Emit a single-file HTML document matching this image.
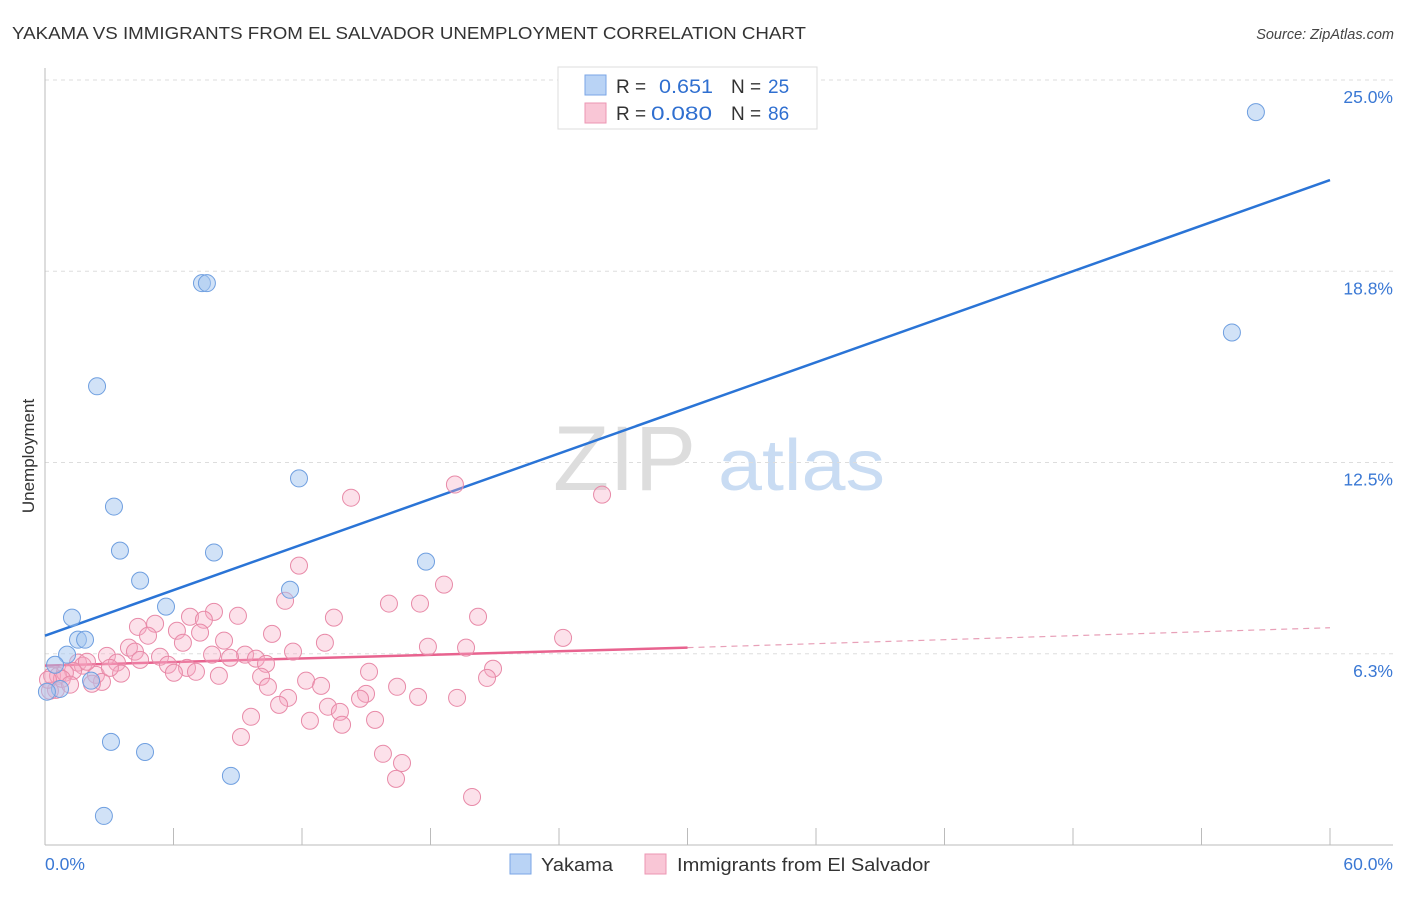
<!DOCTYPE html>
<html><head><meta charset="utf-8"><style>
body{margin:0;background:#fff;font-family:"Liberation Sans",sans-serif;}
svg text{font-family:"Liberation Sans",sans-serif;}
</style></head><body>
<svg id="chart" width="1406" height="892" xmlns="http://www.w3.org/2000/svg">
<text x="12" y="39" font-size="17.5" fill="#333" textLength="794" lengthAdjust="spacingAndGlyphs">YAKAMA VS IMMIGRANTS FROM EL SALVADOR UNEMPLOYMENT CORRELATION CHART</text>
<text x="1394" y="39" font-size="14.5" fill="#444" font-style="italic" text-anchor="end">Source: ZipAtlas.com</text>
<g>
<text x="553" y="490" font-size="92" fill="#ddd" font-family="Liberation Serif, serif">ZIP</text>
<text x="718" y="490" font-size="72" fill="#c9dcf3" textLength="167" lengthAdjust="spacingAndGlyphs">atlas</text>
</g>
<g id="grid"></g>
<g id="axes"></g>
<g id="trends"></g>
<g id="pts"></g>
<text transform="translate(34,456) rotate(-90)" font-size="17" fill="#333" text-anchor="middle">Unemployment</text>
<g>
<rect x="558" y="67" width="259" height="62" fill="#fff" stroke="#ddd"/>
<rect x="585" y="75" width="21" height="20" fill="#b9d3f5" stroke="#7aa6e6"/>
<rect x="585" y="103" width="21" height="20" fill="#f9c6d6" stroke="#ec96b3"/>
<text x="616" y="93" font-size="19" fill="#333">R =</text>
<text x="659" y="93" font-size="19" fill="#2f6fd0" textLength="54" lengthAdjust="spacingAndGlyphs">0.651</text>
<text x="731" y="93" font-size="19" fill="#333">N =</text>
<text x="768" y="93" font-size="19" fill="#2f6fd0">25</text>
<text x="616" y="120" font-size="19" fill="#333">R =</text>
<text x="651" y="120" font-size="19" fill="#2f6fd0" textLength="61" lengthAdjust="spacingAndGlyphs">0.080</text>
<text x="731" y="120" font-size="19" fill="#333">N =</text>
<text x="768" y="120" font-size="19" fill="#2f6fd0">86</text>
</g>
<g>
<rect x="510" y="854" width="21" height="20" fill="#b9d3f5" stroke="#7aa6e6"/>
<text x="541" y="871" font-size="18" fill="#333" textLength="72" lengthAdjust="spacingAndGlyphs">Yakama</text>
<rect x="645" y="854" width="21" height="20" fill="#f9c6d6" stroke="#ec96b3"/>
<text x="677" y="871" font-size="18" fill="#333" textLength="253" lengthAdjust="spacingAndGlyphs">Immigrants from El Salvador</text>
</g>
</svg>
<script>
const yTicks=[6.25,12.5,18.75,25];
const yTickLabels=["6.3%","12.5%","18.8%","25.0%"];
const xTickCount=10;
const blueX=[56.54,55.42,7.33,7.56,2.43,3.22,11.86,3.50,7.89,4.44,17.79,11.44,5.65,1.26,1.54,1.87,1.03,0.47,0.70,0.09,2.15,3.08,4.67,8.68,2.75];
const blueY=[23.95,16.75,18.36,18.36,14.99,11.06,11.98,9.62,9.56,8.64,9.26,8.34,7.79,7.43,6.71,6.71,6.22,5.89,5.10,5.01,5.37,3.37,3.04,2.26,0.95];
const pinkX=[14.29,19.14,26.01,11.86,18.63,11.21,16.06,17.51,13.49,20.22,7.89,6.77,9.01,5.14,4.34,7.42,4.81,6.16,7.24,10.60,8.36,6.44,13.07,24.19,17.88,19.66,11.58,3.92,4.20,2.89,5.37,9.34,8.64,9.85,3.36,5.74,6.63,10.32,1.54,1.77,1.31,0.33,0.61,0.93,2.38,3.55,6.02,7.05,8.12,10.09,15.13,20.92,20.64,2.66,2.19,12.19,12.89,10.41,14.99,16.44,0.51,0.23,11.35,14.71,17.42,19.24,10.93,13.21,13.77,9.62,12.37,13.87,15.41,9.15,15.78,16.67,16.39,19.94,3.03,1.96,0.79,4.44,7.80,0.14,1.17];
const pinkY=[11.35,11.78,11.45,9.13,8.51,7.98,7.89,7.89,7.43,7.46,7.62,7.46,7.49,7.23,7.13,7.36,6.84,7.00,6.94,6.90,6.68,6.61,6.61,6.77,6.48,6.45,6.32,6.45,6.32,6.18,6.15,6.22,6.12,6.09,5.96,5.89,5.79,5.92,5.96,5.86,5.69,5.53,5.53,5.63,5.56,5.60,5.63,5.66,5.53,5.50,5.66,5.76,5.46,5.33,5.27,5.37,5.20,5.17,4.94,5.17,5.07,5.04,4.81,4.78,4.84,4.81,4.58,4.52,4.35,4.19,4.06,3.93,4.09,3.53,2.98,2.68,2.16,1.57,5.79,5.99,5.43,6.05,6.22,5.40,5.24];
const blueTrendX=[0,60];
const blueTrendY=[6.84,21.73];
const pinkTrendX=[0,30,60];
const pinkTrendY=[5.86,6.45,7.10];

const X=v=>45+v*(1285/60);
const Y=v=>845-v*(765/25);
const NS="http://www.w3.org/2000/svg";
function mk(tag,attrs,parent){const e=document.createElementNS(NS,tag);for(const k in attrs)e.setAttribute(k,attrs[k]);parent.appendChild(e);return e;}
const grid=document.getElementById('grid'),axes=document.getElementById('axes'),trends=document.getElementById('trends'),pts=document.getElementById('pts');
yTicks.forEach((t,i)=>{
 const l=mk('line',{x1:45,x2:1393,y1:Y(t),y2:Y(t),stroke:'#ddd','stroke-dasharray':'4,4'},grid);
 
 
 const tx=mk('text',{x:1393,y:Y(t)+23,'font-size':17.5,fill:'#3a78d4','text-anchor':'end'},axes);
 tx.textContent=yTickLabels[i];
 
 
});
const ya=mk('line',{x1:45,x2:45,y1:68,y2:845,stroke:'#bbb'},axes);


const xa=mk('line',{x1:45,x2:1393,y1:845,y2:845,stroke:'#bbb'},axes);


for(let i=1;i<=xTickCount;i++){
 const t=mk('line',{x1:X(i*6),x2:X(i*6),y1:828,y2:845,stroke:'#bbb'},axes);
 
 
}
const x0=mk('text',{x:45,y:870,'font-size':17.5,fill:'#3a78d4'},axes);x0.textContent='0.0%';


const x1=mk('text',{x:1393,y:870,'font-size':17.5,fill:'#3a78d4','text-anchor':'end'},axes);x1.textContent='60.0%';


const bt=mk('line',{x1:X(blueTrendX[0]),y1:Y(blueTrendY[0]),x2:X(blueTrendX[1]),y2:Y(blueTrendY[1]),stroke:'#2a74d6','stroke-width':2.5},trends);


const ps=mk('line',{x1:X(pinkTrendX[0]),y1:Y(pinkTrendY[0]),x2:X(pinkTrendX[1]),y2:Y(pinkTrendY[1]),stroke:'#e8638f','stroke-width':2.5},trends);


const pd=mk('line',{x1:X(pinkTrendX[1]),y1:Y(pinkTrendY[1]),x2:X(pinkTrendX[2]),y2:Y(pinkTrendY[2]),stroke:'#e8a0b8','stroke-width':1.2,'stroke-dasharray':'6,5'},trends);


pinkX.forEach((v,i)=>{
 const c=mk('circle',{cx:X(v),cy:Y(pinkY[i]),r:8.5,fill:'rgba(246,170,195,0.35)',stroke:'#e88aa8','stroke-width':1},pts);
 
 
});
blueX.forEach((v,i)=>{
 const c=mk('circle',{cx:X(v),cy:Y(blueY[i]),r:8.5,fill:'rgba(164,198,240,0.5)',stroke:'#6f9fe0','stroke-width':1},pts);
 
 
});
</script>
</body></html>
